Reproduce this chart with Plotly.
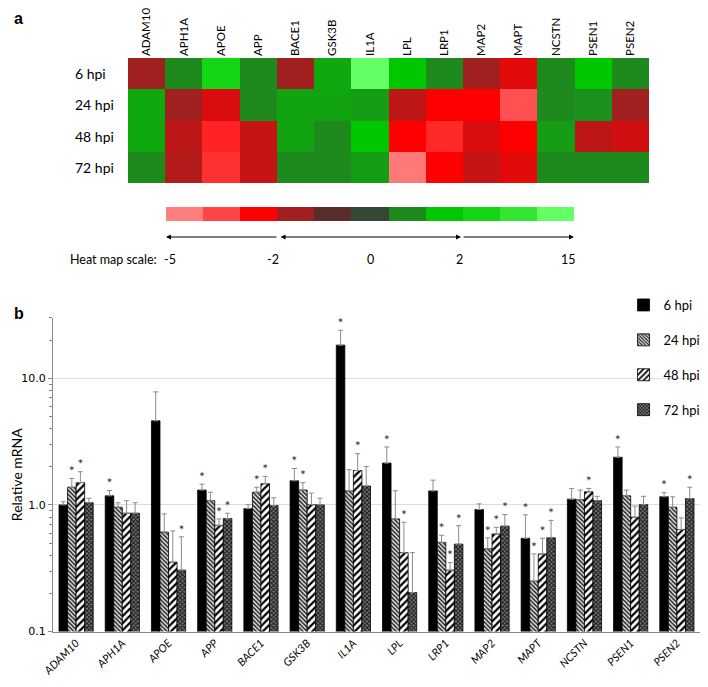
import plotly.graph_objects as go

# data
genes = ["ADAM10", "APH1A", "APOE", "APP", "BACE1", "GSK3B", "IL1A",
         "LPL", "LRP1", "MAP2", "MAPT", "NCSTN", "PSEN1", "PSEN2"]
timepoints = ["6 hpi", "24 hpi", "48 hpi", "72 hpi"]

# heat map: position on the 11-step colour scale (0 = -5 ... 10 = 15)
heat_6 = [3, 6, 8, 6, 3, 6.5, 10, 7, 6, 3, 2.3, 6, 7, 6]
heat_24 = [6.5, 3, 2.4, 6, 6.4, 6.4, 6.3, 2.7, 2, 2, 0.8, 6, 6.1, 3]
heat_48 = [6.5, 2.7, 1.5, 2.6, 6.4, 6, 7, 2, 1.4, 2.4, 2, 6.3, 2.7, 2.5]
heat_72 = [6, 2.8, 1.3, 2.6, 6, 6, 6.3, 0.1, 2, 2.6, 2.3, 6, 6, 6]

scale_colors = ["#FF7F7F", "#FF4545", "#FF0000", "#A02020", "#5A2D2D", "#354835",
                "#1E8A1E", "#00C800", "#14D614", "#32E632", "#64FF64"]
scale_labels = ["-5", "-2", "0", "2", "15"]

# relative mRNA (mean) and error (upper)
mrna_6 = [1.0, 1.18, 4.62, 1.31, 0.935, 1.55, 18.3, 2.14, 1.29, 0.92, 0.545, 1.11, 2.38, 1.16]
err_6 = [0.06, 0.12, 3.2, 0.15, 0.07, 0.39, 5.7, 0.73, 0.28, 0.10, 0.29, 0.24, 0.49, 0.09]
sig_6 = [0, 1, 0, 1, 0, 1, 1, 1, 0, 0, 1, 0, 1, 1]

mrna_24 = [1.38, 0.96, 0.61, 1.08, 1.26, 1.31, 1.29, 0.775, 0.506, 0.45, 0.25, 1.10, 1.18, 0.96]
err_24 = [0.24, 0.08, 0.24, 0.18, 0.12, 0.19, 0.61, 0.52, 0.07, 0.10, 0.16, 0.21, 0.13, 0.20]
sig_24 = [1, 0, 0, 0, 1, 1, 0, 0, 1, 1, 1, 0, 0, 0]

mrna_48 = [1.50, 0.86, 0.353, 0.69, 1.47, 1.005, 1.87, 0.42, 0.305, 0.59, 0.41, 1.27, 0.80, 0.64]
err_48 = [0.33, 0.22, 0.27, 0.085, 0.21, 0.235, 0.67, 0.31, 0.045, 0.075, 0.135, 0.08, 0.18, 0.15]
sig_48 = [1, 0, 0, 1, 1, 0, 1, 1, 1, 1, 1, 1, 0, 0]

mrna_72 = [1.04, 0.86, 0.305, 0.78, 0.99, 1.0, 1.41, 0.203, 0.49, 0.68, 0.55, 1.08, 1.005, 1.12]
err_72 = [0.09, 0.18, 0.255, 0.08, 0.15, 0.13, 0.60, 0.217, 0.195, 0.16, 0.205, 0.09, 0.165, 0.26]
sig_72 = [0, 0, 1, 1, 0, 0, 0, 0, 1, 1, 1, 0, 0, 1]

# the page body has an 8px margin, so the figure is 16px smaller than the window
PAD = 8
W, H = 708 - 2 * PAD, 687 - 2 * PAD
FONT = "Lato"


def px(x):
    return (x - PAD) / W


def py(y):
    return 1 - (y - PAD) / H


n = len(scale_colors)
colorscale = [[i / (n - 1), c] for i, c in enumerate(scale_colors)]

fig = go.Figure()

# panel a: heat map
fig.add_trace(go.Heatmap(
    z=[heat_6, heat_24, heat_48, heat_72], x=genes, y=timepoints,
    colorscale=colorscale, zmin=0, zmax=n - 1, showscale=False,
    xaxis="x2", yaxis="y2", hoverinfo="skip",
))

# colour scale strip
fig.add_trace(go.Heatmap(
    z=[list(range(n))], colorscale=colorscale, zmin=0, zmax=n - 1,
    showscale=False, xaxis="x3", yaxis="y3", hoverinfo="skip",
))

# panel b: grouped bars on a numeric axis
series = [
    ("6 hpi", mrna_6, err_6, sig_6, dict(color="black")),
    ("24 hpi", mrna_24, err_24, sig_24,
     dict(color="white", pattern=dict(shape="\\", size=3, solidity=0.5,
                                      fgcolor="#222", bgcolor="#e8e8e8", fillmode="replace"))),
    ("48 hpi", mrna_48, err_48, sig_48,
     dict(color="white", pattern=dict(shape="/", size=5, solidity=0.45,
                                      fgcolor="black", bgcolor="white", fillmode="replace"))),
    ("72 hpi", mrna_72, err_72, sig_72,
     dict(color="#666", pattern=dict(shape="x", size=3, solidity=0.5,
                                     fgcolor="#111", bgcolor="#777", fillmode="replace"))),
]
bw = 0.185
for j, (name, vals, errs, sig, mk) in enumerate(series):
    xs = [i + (j - 1.5) * bw for i in range(len(genes))]
    mk = dict(mk, line=dict(color="black", width=0.8))
    fig.add_trace(go.Bar(
        x=xs, y=vals, width=bw, name=name, marker=mk, legendgroup=name,
        error_y=dict(type="data", array=errs, arrayminus=[0] * len(errs),
                     symmetric=False, color="#8c8c8c", thickness=1, width=2.5),
    ))
    sx = [x for x, s in zip(xs, sig) if s]
    sy = [(v + e) * 1.11 for v, e, s in zip(vals, errs, sig) if s]
    fig.add_trace(go.Scatter(
        x=sx, y=sy, mode="text", text=["*"] * len(sx), showlegend=False,
        textfont=dict(family=FONT, size=14, color="#333"), hoverinfo="skip",
    ))

ann = []
# panel letters
ann.append(dict(text="<b>a</b>", x=px(12), y=py(18), xref="paper", yref="paper",
                xanchor="left", yanchor="middle", showarrow=False,
                font=dict(family="Liberation Sans", size=16, color="black")))
ann.append(dict(text="<b>b</b>", x=px(12), y=py(313), xref="paper", yref="paper",
                xanchor="left", yanchor="middle", showarrow=False,
                font=dict(family="Liberation Sans", size=16, color="black")))
# heat map row labels (left aligned)
for t in timepoints:
    ann.append(dict(text=t, x=px(73), y=t, xref="paper", yref="y2",
                    xanchor="left", yanchor="middle", showarrow=False,
                    font=dict(family=FONT, size=14, color="black")))
# scale arrows
ay_ = py(237)
ann.append(dict(x=px(166), y=ay_, ax=112, ay=0, xref="paper", yref="paper",
                text="", showarrow=True, arrowhead=2, arrowsize=1, arrowwidth=1,
                arrowcolor="black"))
ann.append(dict(x=px(461), y=ay_, ax=-182, ay=0, xref="paper", yref="paper",
                text="", showarrow=True, arrowhead=2, arrowsize=1, arrowwidth=1,
                arrowside="end+start", arrowcolor="black"))
ann.append(dict(x=px(574), y=ay_, ax=-112, ay=0, xref="paper", yref="paper",
                text="", showarrow=True, arrowhead=2, arrowsize=1, arrowwidth=1,
                arrowcolor="black"))
ann.append(dict(text="Heat map scale:", x=px(159), y=py(259), xref="paper", yref="paper",
                xanchor="right", yanchor="middle", showarrow=False,
                font=dict(family=FONT, size=12.5, color="black")))
for lab, xx in zip(scale_labels, [170, 273, 370, 460, 568]):
    ann.append(dict(text=lab, x=px(xx), y=py(259), xref="paper", yref="paper",
                    xanchor="center", yanchor="middle", showarrow=False,
                    font=dict(family=FONT, size=12.5, color="black")))

fig.update_layout(
    width=W, height=H,
    margin=dict(l=0, r=0, t=0, b=0, autoexpand=False),
    paper_bgcolor="white", plot_bgcolor="white",
    barmode="overlay",
    annotations=ann,
    font=dict(family=FONT, color="black"),
    xaxis=dict(domain=[px(53), px(700)], range=[-0.5, len(genes) - 0.5],
               tickvals=list(range(len(genes))), ticktext=genes, tickangle=-45,
               tickfont=dict(family=FONT, size=11, style="italic"),
               showline=True, linecolor="#888", linewidth=1, showgrid=False,
               ticks="", zeroline=False, automargin=False),
    yaxis=dict(domain=[py(631.5), py(318)], type="log", range=[-1, 1.477],
               dtick=1, tickformat=".1f", showline=True, linecolor="#888",
               linewidth=1, ticks="outside", ticklen=4, tickcolor="#888",
               showgrid=True, gridcolor="#dcdcdc", gridwidth=1,
               minor=dict(ticks="outside", ticklen=3, tickcolor="#888",
                          tickvals=[0.2, 0.3, 0.4, 0.5, 0.6, 0.7, 0.8, 0.9,
                                    2, 3, 4, 5, 6, 7, 8, 9, 20, 30],
                          showgrid=False),
               tickfont=dict(family="DejaVu Sans", size=11), automargin=False,
               title=dict(text="Relative mRNA", font=dict(family=FONT, size=14),
                          standoff=12)),
    xaxis2=dict(domain=[px(128), px(649)], side="top", tickangle=-90,
                tickfont=dict(family=FONT, size=11.5), showgrid=False,
                ticklabelstandoff=1,
                ticks="", anchor="y2", showline=False, automargin=False),
    yaxis2=dict(domain=[py(183), py(58)], autorange="reversed", automargin=False,
                showticklabels=False, showgrid=False, ticks="", anchor="x2"),
    xaxis3=dict(domain=[px(166), px(574)], visible=False, anchor="y3"),
    yaxis3=dict(domain=[py(221), py(207)], visible=False, anchor="x3"),
    legend=dict(x=1.008, y=py(290), xanchor="right", yanchor="top",
                font=dict(family=FONT, size=13), tracegroupgap=15,
                bgcolor="rgba(0,0,0,0)", itemwidth=30),
)

fig.write_html("out.html")
